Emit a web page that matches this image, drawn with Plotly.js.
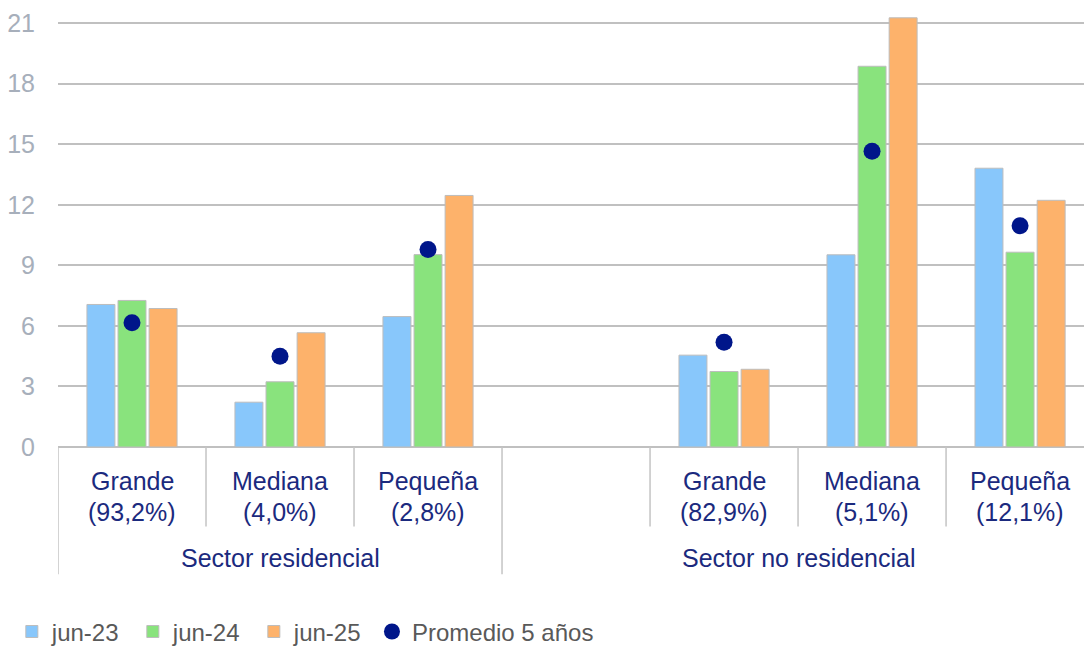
<!DOCTYPE html>
<html>
<head>
<meta charset="utf-8">
<script src="https://cdn.plot.ly/plotly-3.0.1.min.js"></script>
<style>html,body{margin:0;padding:0;background:#fff;}#chart{width:1084px;height:646px;}</style>
</head>
<body>
<div id="chart"></div>
<script>
// ---- data ----
const sizeNames = ['Grande', 'Mediana', 'Pequeña', '', 'Grande', 'Mediana', 'Pequeña'];
const shares = ['(93,2%)', '(4,0%)', '(2,8%)', '', '(82,9%)', '(5,1%)', '(12,1%)'];
const sectors = ['Sector residencial', 'Sector no residencial'];
const sectorStart = [0, 3];
const sectorEnd = [2, 6];
const jun23 = [7.06, 2.22, 6.46, null, 4.55, 9.52, 13.81];
const jun24 = [7.26, 3.23, 9.53, null, 3.74, 18.86, 9.65];
const jun25 = [6.86, 5.66, 12.46, null, 3.85, 21.26, 12.22];
const promedio = [6.15, 4.50, 9.78, null, 5.19, 14.65, 10.96];
const seriesNames = ['jun-23', 'jun-24', 'jun-25', 'Promedio 5 años'];
const yTicks = [0, 3, 6, 9, 12, 15, 18, 21];

// ---- build ----
const categories = sizeNames.map((n, i) => n ? n + ' ' + shares[i] : ' ');
const FONT = '"Liberation Sans", Arial, sans-serif';
const NAVY = '#1B2A7E';
const barColors = ['#88C7FB', '#89E37D', '#FDB26B'];
const barLine = {color: '#BDBDBD', width: 1};

const traces = [jun23, jun24, jun25].map((vals, k) => ({
  type: 'bar', name: seriesNames[k], x: categories, y: vals,
  marker: {color: barColors[k], line: barLine},
  legend: 'legend', hoverinfo: 'skip'
}));
traces.push({
  type: 'scatter', mode: 'markers', name: seriesNames[3], x: categories, y: promedio,
  marker: {color: '#00168A', size: 17}, legend: 'legend2', hoverinfo: 'skip'
});

const ROW1 = -0.078, ROW2 = -0.151, ROW3 = -0.257, SHORT = -0.185, LONG = -0.296;
const annotations = [];
const shapes = [];
sizeNames.forEach((n, i) => {
  if (!n) return;
  annotations.push({xref: 'x', yref: 'paper', x: categories[i], y: ROW1, text: n, showarrow: false,
    xanchor: 'center', yanchor: 'middle', font: {family: FONT, size: 25, color: NAVY}});
  annotations.push({xref: 'x', yref: 'paper', x: categories[i], y: ROW2, text: shares[i], showarrow: false,
    xanchor: 'center', yanchor: 'middle', font: {family: FONT, size: 25, color: NAVY}});
});
sectors.forEach((s, g) => {
  annotations.push({xref: 'x', yref: 'paper', x: (sectorStart[g] + sectorEnd[g]) / 2, y: ROW3, text: s,
    showarrow: false, xanchor: 'center', yanchor: 'middle', font: {family: FONT, size: 25, color: NAVY}});
});
for (let i = 0; i < categories.length; i++) {
  const isGroupStart = sectorStart.indexOf(i) >= 0;
  shapes.push({type: 'line', xref: 'x', yref: 'paper', x0: i - 0.5, x1: i - 0.5, y0: 0,
    y1: isGroupStart ? LONG : SHORT, line: {color: '#C4C4C4', width: 1.5}});
}

const legendFont = {family: FONT, size: 24, color: '#595959'};
const layout = {
  width: 1084, height: 646,
  margin: {l: 58, r: 0, t: 17, b: 199, autoexpand: false},
  paper_bgcolor: '#ffffff', plot_bgcolor: '#ffffff',
  font: {family: FONT},
  barmode: 'group', bargap: 0.37, bargroupgap: 0.1,
  showlegend: true,
  legend: {orientation: 'h', x: -0.045, xanchor: 'left', y: -0.43, yanchor: 'middle',
    font: legendFont, traceorder: 'normal', entrywidth: 76, itemwidth: 30, bgcolor: 'rgba(0,0,0,0)'},
  legend2: {orientation: 'h', x: 0.306, xanchor: 'left', y: -0.43, yanchor: 'middle',
    font: legendFont, itemwidth: 30, bgcolor: 'rgba(0,0,0,0)'},
  xaxis: {type: 'category', categoryorder: 'array', categoryarray: categories,
    range: [-0.5, 6.432], showticklabels: false, ticks: '', showgrid: false,
    showline: false, zeroline: false, fixedrange: true},
  yaxis: {range: [0, 21.3], tickvals: yTicks, ticktext: yTicks.map(String),
    showgrid: true, gridcolor: '#C0C0C0', gridwidth: 2,
    zeroline: true, zerolinecolor: '#C0C0C0', zerolinewidth: 2,
    showline: false, ticks: '', ticklabelstandoff: 22,
    tickfont: {family: FONT, size: 25, color: '#A7AFBB'}, fixedrange: true},
  annotations: annotations,
  shapes: shapes
};

Plotly.newPlot('chart', traces, layout, {staticPlot: true, displayModeBar: false});
</script>
</body>
</html>
